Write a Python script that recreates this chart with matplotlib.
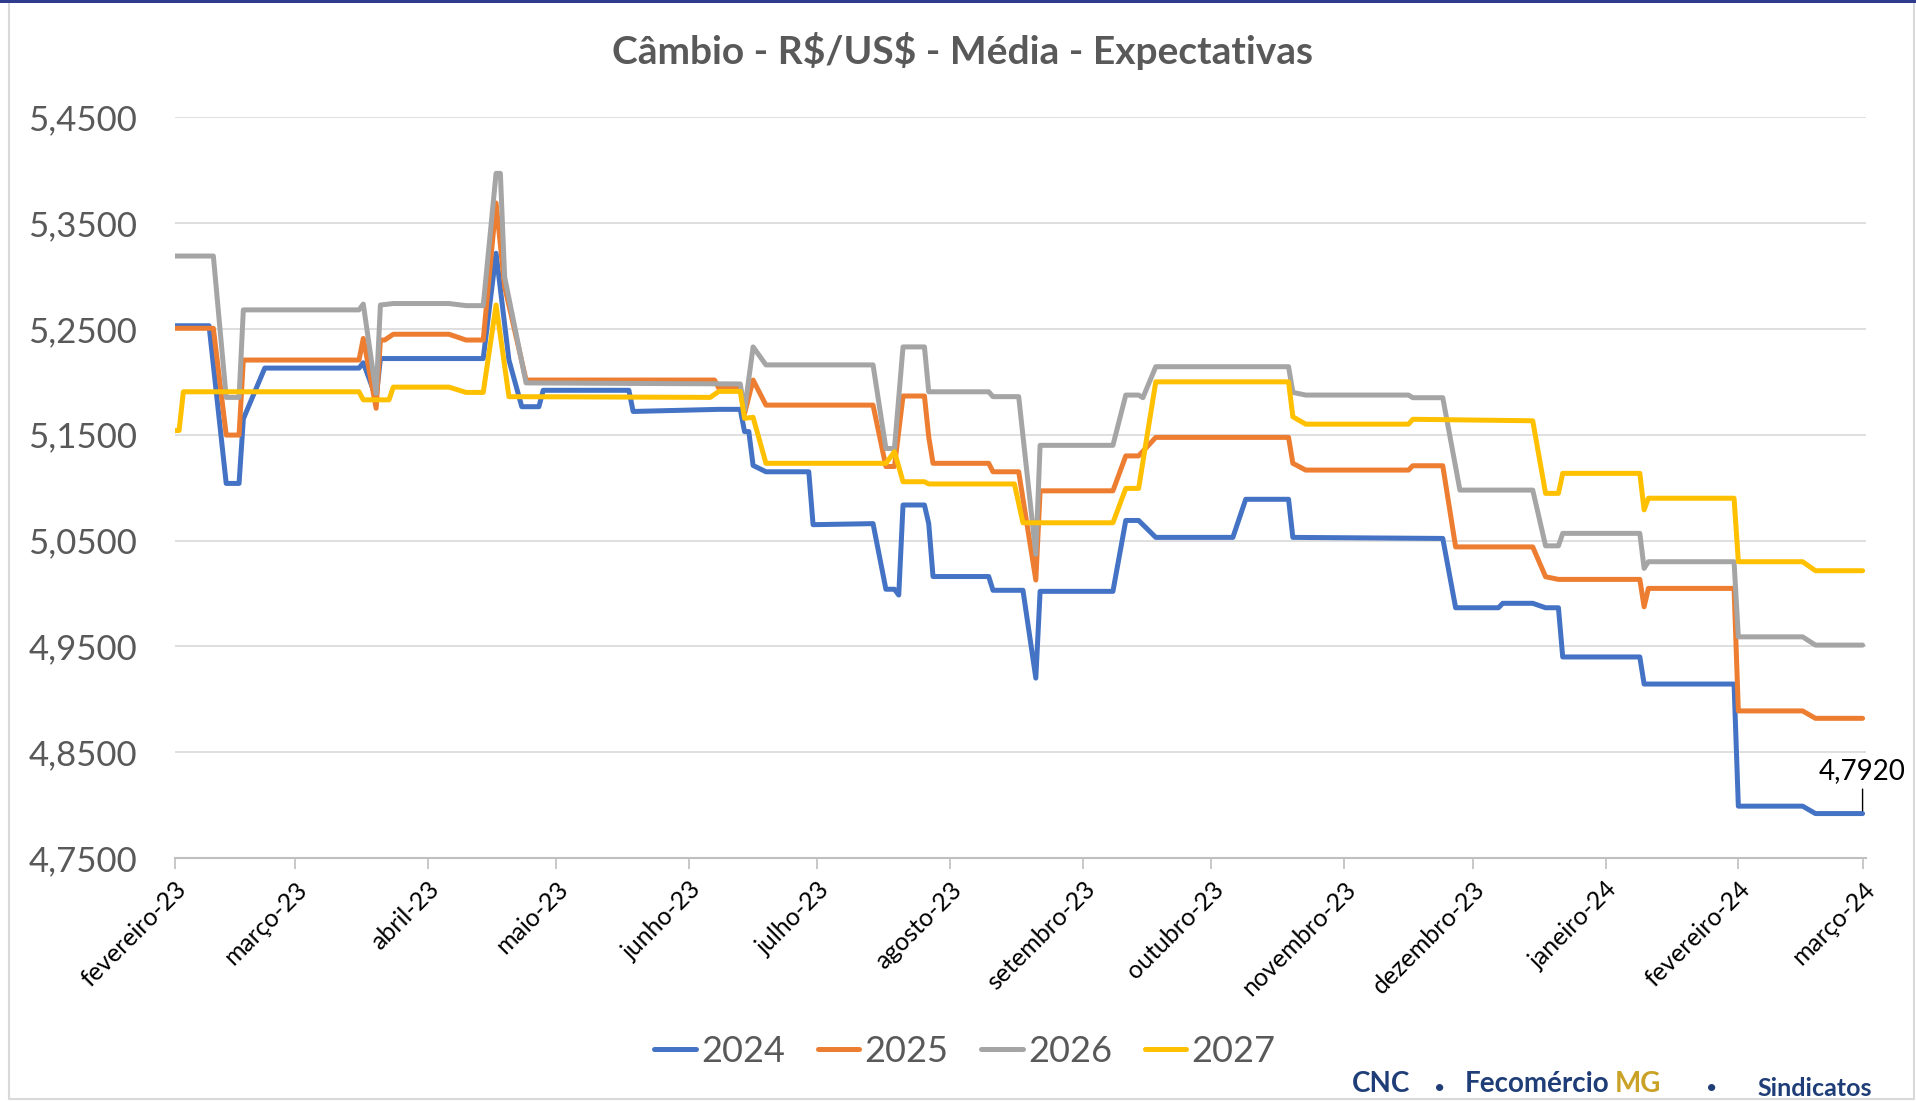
import pandas as pd
import numpy as np
import matplotlib
matplotlib.use('Agg')
import matplotlib.pyplot as plt
from matplotlib.patches import Rectangle
from matplotlib.lines import Line2D

plt.rcParams['font.family'] = ['Lato', 'DejaVu Sans']

# revision points (the series are flat between them)
dates_2024 = ['2023-02-01', '2023-02-09', '2023-02-13', '2023-02-16', '2023-02-17', '2023-02-22',
              '2023-03-16', '2023-03-17', '2023-03-20', '2023-03-21', '2023-04-14', '2023-04-17',
              '2023-04-20', '2023-04-23', '2023-04-27', '2023-04-28', '2023-05-18', '2023-05-19',
              '2023-06-08', '2023-06-13', '2023-06-14', '2023-06-15', '2023-06-16', '2023-06-19',
              '2023-06-29', '2023-06-30', '2023-07-14', '2023-07-17', '2023-07-19', '2023-07-20',
              '2023-07-21', '2023-07-26', '2023-07-27', '2023-07-28', '2023-08-10', '2023-08-11',
              '2023-08-18', '2023-08-21', '2023-08-22', '2023-09-08', '2023-09-11', '2023-09-14',
              '2023-09-18', '2023-10-06', '2023-10-09', '2023-10-19', '2023-10-20', '2023-11-24',
              '2023-11-27', '2023-12-07', '2023-12-08', '2023-12-15', '2023-12-18', '2023-12-21',
              '2023-12-22', '2024-01-09', '2024-01-10', '2024-01-31', '2024-02-01', '2024-02-16',
              '2024-02-19', '2024-03-01']
vals_2024 = [5.253, 5.253, 5.104, 5.104, 5.165, 5.213, 5.213, 5.218, 5.185, 5.222, 5.222, 5.3215,
             5.2206, 5.1765, 5.1765, 5.192, 5.192, 5.172, 5.174, 5.174, 5.153, 5.153, 5.121, 5.115,
             5.115, 5.065, 5.066, 5.004, 5.004, 4.9985, 5.0836, 5.0836, 5.066, 5.016, 5.016, 5.003,
             5.003, 4.920, 5.002, 5.002, 5.069, 5.069, 5.053, 5.053, 5.089, 5.089, 5.053, 5.052,
             4.9865, 4.9865, 4.9907, 4.9907, 4.9865, 4.9865, 4.940, 4.940, 4.9144, 4.9144, 4.799,
             4.799, 4.792, 4.792]

dates_2025 = ['2023-02-01', '2023-02-10', '2023-02-13', '2023-02-16', '2023-02-17', '2023-03-16',
              '2023-03-17', '2023-03-20', '2023-03-21', '2023-03-22', '2023-03-24', '2023-04-06',
              '2023-04-10', '2023-04-14', '2023-04-17', '2023-04-19', '2023-04-24', '2023-06-07',
              '2023-06-08', '2023-06-13', '2023-06-14', '2023-06-16', '2023-06-19', '2023-07-14',
              '2023-07-17', '2023-07-19', '2023-07-21', '2023-07-26', '2023-07-27', '2023-07-28',
              '2023-08-10', '2023-08-11', '2023-08-17', '2023-08-21', '2023-08-22', '2023-09-08',
              '2023-09-11', '2023-09-14', '2023-09-18', '2023-10-19', '2023-10-20', '2023-10-23',
              '2023-11-16', '2023-11-17', '2023-11-24', '2023-11-27', '2023-12-15', '2023-12-18',
              '2023-12-21', '2024-01-09', '2024-01-10', '2024-01-11', '2024-01-31', '2024-02-01',
              '2024-02-16', '2024-02-19', '2024-03-01']
vals_2025 = [5.2506, 5.2506, 5.1497, 5.1497, 5.2206, 5.2206, 5.241, 5.175, 5.2395, 5.2395, 5.245,
             5.245, 5.2395, 5.2395, 5.369, 5.29, 5.2017, 5.2017, 5.194, 5.194, 5.170, 5.2017, 5.178,
             5.178, 5.120, 5.120, 5.1866, 5.1866, 5.148, 5.123, 5.123, 5.115, 5.115, 5.0127, 5.097,
             5.097, 5.130, 5.130, 5.1475, 5.1475, 5.123, 5.1166, 5.1166, 5.1207, 5.1207, 5.044,
             5.044, 5.0158, 5.0133, 5.0133, 4.9874, 5.0048, 5.0048, 4.889, 4.889, 4.882, 4.882]

dates_2026 = ['2023-02-01', '2023-02-10', '2023-02-13', '2023-02-16', '2023-02-17', '2023-03-16',
              '2023-03-17', '2023-03-20', '2023-03-21', '2023-03-24', '2023-04-06', '2023-04-10',
              '2023-04-14', '2023-04-17', '2023-04-18', '2023-04-19', '2023-04-24', '2023-06-13',
              '2023-06-14', '2023-06-16', '2023-06-19', '2023-07-14', '2023-07-17', '2023-07-19',
              '2023-07-21', '2023-07-26', '2023-07-27', '2023-08-10', '2023-08-11', '2023-08-17',
              '2023-08-21', '2023-08-22', '2023-09-08', '2023-09-11', '2023-09-14', '2023-09-15',
              '2023-09-18', '2023-10-19', '2023-10-20', '2023-10-23', '2023-11-16', '2023-11-17',
              '2023-11-24', '2023-11-28', '2023-12-15', '2023-12-18', '2023-12-21', '2023-12-22',
              '2024-01-09', '2024-01-10', '2024-01-11', '2024-01-31', '2024-02-01', '2024-02-16',
              '2024-02-19', '2024-03-01']
vals_2026 = [5.3189, 5.3189, 5.1853, 5.1853, 5.268, 5.268, 5.2735, 5.189, 5.2726, 5.274, 5.274,
             5.272, 5.272, 5.397, 5.397, 5.299, 5.199, 5.198, 5.173, 5.233, 5.216, 5.216, 5.137,
             5.137, 5.233, 5.233, 5.1906, 5.1906, 5.186, 5.186, 5.037, 5.140, 5.140, 5.1875, 5.1875,
             5.185, 5.2143, 5.2143, 5.19, 5.1875, 5.1875, 5.185, 5.185, 5.0977, 5.0977, 5.045,
             5.045, 5.0568, 5.0568, 5.0237, 5.030, 5.030, 4.959, 4.959, 4.9512, 4.9512]

dates_2027 = ['2023-02-01', '2023-02-02', '2023-02-03', '2023-03-16', '2023-03-17', '2023-03-23',
              '2023-03-24', '2023-04-06', '2023-04-10', '2023-04-14', '2023-04-17', '2023-04-20',
              '2023-06-06', '2023-06-08', '2023-06-13', '2023-06-14', '2023-06-16', '2023-06-19',
              '2023-07-17', '2023-07-19', '2023-07-21', '2023-07-26', '2023-07-27', '2023-08-16',
              '2023-08-18', '2023-09-08', '2023-09-11', '2023-09-14', '2023-09-18', '2023-10-19',
              '2023-10-20', '2023-10-23', '2023-11-16', '2023-11-17', '2023-12-15', '2023-12-18',
              '2023-12-21', '2023-12-22', '2024-01-09', '2024-01-10', '2024-01-11', '2024-01-31',
              '2024-02-01', '2024-02-16', '2024-02-19', '2024-03-01']
vals_2027 = [5.154, 5.154, 5.1906, 5.1906, 5.183, 5.183, 5.195, 5.195, 5.19, 5.19, 5.2726, 5.186,
             5.1853, 5.191, 5.191, 5.1655, 5.1665, 5.123, 5.123, 5.134, 5.1056, 5.1056, 5.1035,
             5.1035, 5.0668, 5.0668, 5.0993, 5.0993, 5.200, 5.200, 5.167, 5.160, 5.160, 5.1646,
             5.1632, 5.0946, 5.0946, 5.1135, 5.1135, 5.079, 5.090, 5.090, 5.030, 5.030, 5.0215,
             5.0215]

month_labels = ['fevereiro-23', 'março-23', 'abril-23', 'maio-23', 'junho-23', 'julho-23',
                'agosto-23', 'setembro-23', 'outubro-23', 'novembro-23', 'dezembro-23',
                'janeiro-24', 'fevereiro-24', 'março-24']
y_ticks = [4.75, 4.85, 4.95, 5.05, 5.15, 5.25, 5.35, 5.45]

series = [
    ('2024', dates_2024, vals_2024, '#4472C4'),
    ('2025', dates_2025, vals_2025, '#ED7D31'),
    ('2026', dates_2026, vals_2026, '#A5A5A5'),
    ('2027', dates_2027, vals_2027, '#FFC000'),
]

W, H = 1916, 1101
fig = plt.figure(figsize=(W / 100, H / 100), dpi=100)
fig.patch.set_facecolor('white')

# chart frame like the Excel export
fig.patches.append(Rectangle((9 / W, 2 / H), (1914 - 9) / W, (1099 - 2) / H,
                             transform=fig.transFigure, fill=False,
                             edgecolor='#D9D9D9', linewidth=1.5))
fig.patches.append(Rectangle((0, 1 - 3 / H), 1, 3 / H, transform=fig.transFigure,
                             facecolor='#2F3B8C', edgecolor='none'))

left, right, top, bottom = 174.8, 1866, 117.3, 858
ax = fig.add_axes([left / W, 1 - bottom / H, (right - left) / W, (bottom - top) / H])

for name, d, v, c in series:
    ax.plot(pd.to_datetime(d), v, color=c, lw=3.6, label=name,
            solid_joinstyle='round', solid_capstyle='round', zorder=3)

ax.set_ylim(4.75, 5.45)
ax.set_xlim(pd.Timestamp('2023-02-01'), pd.Timestamp('2024-03-01') + pd.Timedelta(days=0.8))

ax.set_yticks(y_ticks)
ax.set_yticklabels([f'{t:.4f}'.replace('.', ',') for t in y_ticks])
ax.tick_params(axis='y', length=0, pad=27, labelsize=25, labelcolor='#595959')
ax.grid(axis='y', color='#D9D9D9', lw=1.2, zorder=0)

ticks = pd.date_range('2023-02-01', '2024-03-01', freq='MS')
ax.set_xticks(ticks)
ax.set_xticklabels(month_labels, rotation=45, ha='right', va='top', rotation_mode='anchor')
ax.tick_params(axis='x', length=8, width=1.2, color='#BFBFBF', pad=6, labelsize=18,
               labelcolor='#000000')

for s in ['top', 'right', 'left']:
    ax.spines[s].set_visible(False)
ax.spines['bottom'].set_color('#BFBFBF')
ax.spines['bottom'].set_linewidth(1.5)

# last value label for 2024
last_x = pd.Timestamp(dates_2024[-1])
ax.annotate(f'{vals_2024[-1]:.4f}'.replace('.', ','), xy=(last_x, vals_2024[-1]),
            xytext=(0, 30), textcoords='offset pixels', ha='center', va='bottom',
            fontsize=20, color='#000000', annotation_clip=False,
            arrowprops=dict(arrowstyle='-', color='#000000', lw=1, shrinkA=2, shrinkB=2))

fig.text(962 / W, 1 - 51 / H, r'Câmbio - R\$/US\$ - Média - Expectativas', ha='center',
         va='center', fontsize=28, fontweight='bold', color='#595959')

handles = [Line2D([0], [0], color=c, lw=3.6, solid_capstyle='round') for _, _, _, c in series]
fig.legend(handles, [s[0] for s in series], loc='center', bbox_to_anchor=(965 / W, 1 - 1051 / H),
           ncol=4, frameon=False, fontsize=26, handlelength=1.15, handletextpad=0.15,
           columnspacing=0.9, labelcolor='#595959')

# footer logos
fig.text(1815 / W, 1 - 1088 / H, 'Sindicatos', ha='center', va='center', fontsize=18,
         fontweight='bold', color='#1F3E78')
fig.text(1352 / W, 1 - 1097 / H, 'CNC', ha='left', va='bottom', fontsize=20,
         fontweight='bold', color='#1F3E78')
fig.text(1440 / W, 1 - 1097 / H, '•', ha='center', va='bottom', fontsize=14, color='#1F3E78')
fig.text(1465 / W, 1 - 1097 / H, 'Fecomércio', ha='left', va='bottom', fontsize=20,
         fontweight='bold', color='#1F3E78')
fig.text(1615 / W, 1 - 1097 / H, 'MG', ha='left', va='bottom', fontsize=20,
         fontweight='bold', color='#C9A227')
fig.text(1712 / W, 1 - 1097 / H, '•', ha='center', va='bottom', fontsize=14, color='#1F3E78')

fig.savefig('out.png', dpi=100)
